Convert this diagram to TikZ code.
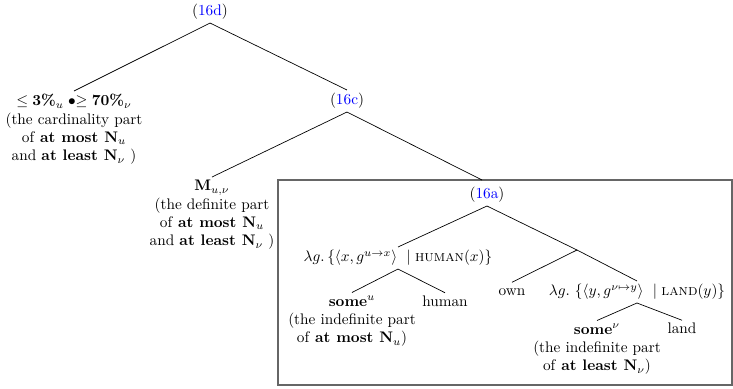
\documentclass[tikz,border=0pt]{standalone}
\usepackage{amssymb}
\newcommand\exref[1]{(\textcolor{blue}{#1})}
\begin{document}
\begin{tikzpicture}[x=0.654pt,y=-0.654pt,
  lbl/.style={inner sep=2pt},
  wd/.style={inner sep=2pt,text height=1.5ex,text depth=.25ex,anchor=base},
  multi/.style={align=center,inner sep=2pt,anchor=north},
  edge/.style={draw=black,line width=0.45pt},
  boxline/.style={draw=black!60,line width=0.7pt}]
\useasboundingbox (0,0) rectangle (733,389);
% nodes
\node[lbl] (d) at (210,12) {\exref{16d}};
\node[multi] (card) at (74,91) {$\leq \mbox{\textbf{3\%}}_u\;{\bullet}{\geq}\;\mbox{\textbf{70\%}}_\nu$\\(the cardinality part\\of \textbf{at most N}$_u$\\and \textbf{at least N}$_\nu$ )};
\node[lbl] (c) at (347,101) {\exref{16c}};
\node[multi] (m) at (212,177) {$\mathbf{M}_{u,\nu}$\\(the definite part\\of \textbf{at most N}$_u$\\and \textbf{at least N}$_\nu$ )};
\coordinate (bxnw) at (278,180);
\coordinate (bxse) at (732,385);
\coordinate (bxtop) at (482,180);
\draw[boxline] (bxnw) rectangle (bxse);
\node[lbl] (a) at (487,195) {\exref{16a}};
\node[lbl] (lx) at (398,258) {$\lambda g.\,\{\langle x, g^{u\rightarrow x}\rangle\ \mid \mbox{\textsc{human}}(x)\}$};
\node[multi] (su) at (352,292.5) {\textbf{some}$^u$\\(the indefinite part\\of \textbf{at most N}$_u$)};
\node[wd] (hu) at (445,306) {human};
\coordinate (br) at (577,250);
\node[wd] (own) at (512,295.5) {own};
\node[lbl] (ly) at (637,292) {$\lambda g.\ \{\langle y, g^{\nu\mapsto y}\rangle\ \mid \mbox{\textsc{land}}(y)\}$};
\node[multi] (sv) at (597,320.5) {\textbf{some}$^\nu$\\(the indefinite part\\of \textbf{at least N}$_\nu$)};
\node[wd] (land) at (682,333.5) {land};
% edges
\draw[edge] (d.south) -- (card.north);
\draw[edge] (d.south) -- (c.north);
\draw[edge] (c.south) -- (m.north);
\draw[edge] (c.south) -- (bxtop);
\draw[edge] (a.south) -- (lx.north);
\draw[edge] (a.south) -- (br);
\draw[edge] (lx.south) -- (su.north);
\draw[edge] (lx.south) -- (hu.north);
\draw[edge] (br) -- (own.north);
\draw[edge] (br) -- (ly.north);
\draw[edge] (ly.south) -- (sv.north);
\draw[edge] (ly.south) -- (land.north);
\end{tikzpicture}
\end{document}
